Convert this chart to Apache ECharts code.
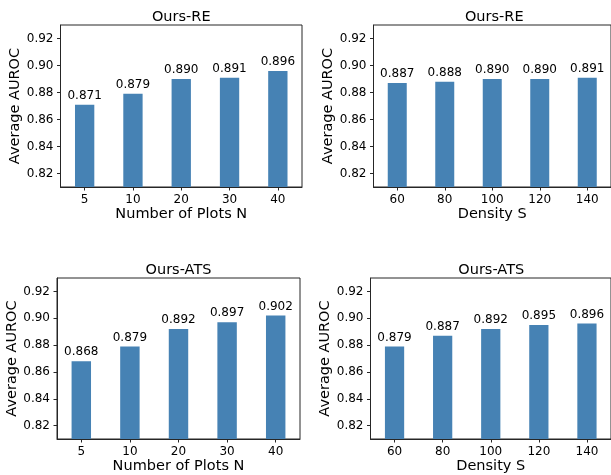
<!DOCTYPE html>
<html>
<head>
<meta charset="utf-8">
<script src="https://cdn.jsdelivr.net/npm/echarts@6/dist/echarts.min.js"></script>
<style>
html,body{margin:0;padding:0;background:#fff;}
#c{width:611px;height:475px;}
</style>
</head>
<body>
<div id="c"></div>
<script>
// ---- data ----
const plotsN = ['5', '10', '20', '30', '40'];
const densityS = ['60', '80', '100', '120', '140'];
const reByN = [0.871, 0.879, 0.890, 0.891, 0.896];
const reByS = [0.887, 0.888, 0.890, 0.890, 0.891];
const atsByN = [0.868, 0.879, 0.892, 0.897, 0.902];
const atsByS = [0.879, 0.887, 0.892, 0.895, 0.896];
const yTicks = [0.82, 0.84, 0.86, 0.88, 0.90, 0.92];
const titles = ['Ours-RE', 'Ours-RE', 'Ours-ATS', 'Ours-ATS'];
const xNames = ['Number of Plots N', 'Density S', 'Number of Plots N', 'Density S'];
const yName = 'Average AUROC';

// ---- layout ----
const grids = [
  {left: 60.5, right: 309, top: 25, bottom: 288},
  {left: 373.5, right: -4, top: 25, bottom: 288},
  {left: 57, right: 311, top: 278, bottom: 36},
  {left: 370.5, right: -1, top: 278, bottom: 36}
];
const cats = [plotsN, densityS, plotsN, densityS];
const vals = [reByN, reByS, atsByN, atsByS];
const FONT = '"DejaVu Sans", sans-serif';
const TXT = '#000';
const AX = '#262626';

const option = {
  animation: false,
  backgroundColor: '#fff',
  textStyle: {fontFamily: FONT},
  title: grids.map((g, i) => {
    const W = 611;
    const right = W - g.right;
    return {
      text: titles[i],
      left: (g.left + right) / 2,
      top: g.top - 15,
      padding: 0,
      textAlign: 'center',
      textStyle: {fontFamily: FONT, fontSize: 14.5, fontWeight: 'normal', color: TXT}
    };
  }),
  grid: grids.map(g => Object.assign({show: true, borderColor: AX, borderWidth: 1, backgroundColor: 'transparent', containLabel: false}, g)),
  xAxis: grids.map((g, i) => ({
    type: 'category',
    gridIndex: i,
    data: cats[i],
    name: xNames[i],
    nameLocation: 'middle',
    nameGap: 20,
    nameTextStyle: {fontFamily: FONT, fontSize: 14.5, color: TXT},
    axisLine: {show: true, lineStyle: {color: AX, width: 1}},
    axisTick: {show: true, alignWithLabel: true, length: 3.5, lineStyle: {color: AX}},
    axisLabel: {fontFamily: FONT, fontSize: 12, color: TXT, margin: 7},
    splitLine: {show: false}
  })),
  yAxis: grids.map((g, i) => ({
    type: 'value',
    gridIndex: i,
    min: 0.81,
    max: 0.93,
    name: yName,
    nameLocation: 'middle',
    nameGap: 34,
    nameTextStyle: {fontFamily: FONT, fontSize: 14.5, color: TXT},
    axisLine: {show: true, lineStyle: {color: AX, width: 1}},
    axisTick: {show: true, length: 3.5, lineStyle: {color: AX}, customValues: yTicks},
    axisLabel: {fontFamily: FONT, fontSize: 12, color: TXT, margin: 7, customValues: yTicks,
      formatter: v => v.toFixed(2)},
    splitLine: {show: false}
  })),
  series: grids.map((g, i) => ({
    type: 'bar',
    xAxisIndex: i,
    yAxisIndex: i,
    data: vals[i],
    barWidth: '40%',
    itemStyle: {color: '#4682B4'},
    label: {show: true, position: 'top', distance: 3, fontFamily: FONT, fontSize: 12, color: TXT,
      formatter: p => p.value.toFixed(3)}
  }))
};

const chart = echarts.init(document.getElementById('c'), null, {renderer: 'canvas'});
chart.setOption(option);
</script>
</body>
</html>
